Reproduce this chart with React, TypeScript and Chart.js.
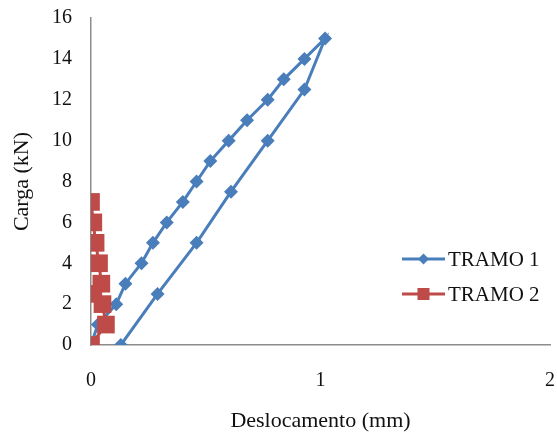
import React, { useEffect, useRef } from "react";
import { Chart, registerables } from "chart.js";

Chart.register(...registerables);

const seriesNames = ["TRAMO 1", "TRAMO 2"];
const tramo1X = [0.0, 0.03, 0.11, 0.15, 0.22, 0.27, 0.33, 0.40, 0.46, 0.52, 0.60, 0.68, 0.77, 0.84, 0.93, 1.02, 0.93, 0.77, 0.61, 0.46, 0.29, 0.13];
const tramo1Y = [0, 1, 2, 3, 4, 5, 6, 7, 8, 9, 10, 11, 12, 13, 14, 15, 12.5, 10, 7.5, 5, 2.5, 0];
const tramo2X = [0.0, 0.065, 0.05, 0.01, 0.045, 0.035, 0.02, 0.01, 0.0];
const tramo2Y = [0, 1, 2, 2.5, 3, 4, 5, 6, 7];
const xTitle = "Deslocamento (mm)";
const yTitle = "Carga (kN)";

const BLUE = "#4A7EBB";
const RED = "#BE4B48";
const FONT = "'Liberation Serif', 'Times New Roman', serif";

const legendPlugin = {
  id: "insideLegend",
  afterDraw(chart: any) {
    const ctx = chart.ctx;
    const ds = chart.data.datasets;
    const x0 = 402, x1 = 445, tx = 448;
    const ys = [259, 294];
    ctx.save();
    ds.forEach((d: any, i: number) => {
      const y = ys[i];
      ctx.strokeStyle = d.borderColor;
      ctx.lineWidth = 3;
      ctx.beginPath();
      ctx.moveTo(x0, y);
      ctx.lineTo(x1, y);
      ctx.stroke();
      ctx.fillStyle = d.pointBackgroundColor;
      const cx = (x0 + x1) / 2;
      ctx.beginPath();
      if (d.pointStyle === "rectRot") {
        const r = 5.5;
        ctx.moveTo(cx, y - r);
        ctx.lineTo(cx + r, y);
        ctx.lineTo(cx, y + r);
        ctx.lineTo(cx - r, y);
        ctx.closePath();
      } else {
        ctx.rect(cx - 6, y - 6, 12, 12);
      }
      ctx.fill();
      ctx.fillStyle = "#111";
      ctx.font = `21px ${FONT}`;
      ctx.textAlign = "left";
      ctx.textBaseline = "middle";
      ctx.fillText(d.label, tx, y + 1);
    });
    ctx.restore();
  },
};

export default function App() {
  const ref = useRef<HTMLCanvasElement>(null);
  useEffect(() => {
    document.body.style.margin = "0";
    const canvas = ref.current!;
    const chart = new Chart(canvas, {
      type: "scatter",
      data: {
        datasets: [
          {
            label: seriesNames[0],
            data: tramo1X.map((x, i) => ({ x, y: tramo1Y[i] })),
            showLine: true,
            borderColor: BLUE,
            backgroundColor: BLUE,
            pointBackgroundColor: BLUE,
            pointBorderColor: BLUE,
            borderWidth: 3,
            pointStyle: "rectRot",
            pointRadius: 7,
            pointBorderWidth: 0,
            order: 1,
          },
          {
            label: seriesNames[1],
            data: tramo2X.map((x, i) => ({ x, y: tramo2Y[i] })),
            showLine: true,
            borderColor: RED,
            backgroundColor: RED,
            pointBackgroundColor: RED,
            pointBorderColor: RED,
            borderWidth: 3,
            pointStyle: "rect",
            pointRadius: 12.5,
            pointBorderWidth: 0,
            order: 0,
          },
        ],
      },
      options: {
        animation: false,
        responsive: false,
        devicePixelRatio: 1,
        layout: { autoPadding: false, padding: { top: 18, right: 7, left: 0, bottom: 0 } },
        plugins: { legend: { display: false }, tooltip: { enabled: false } },
        scales: {
          x: {
            type: "linear",
            min: 0,
            max: 2,
            ticks: { stepSize: 1, padding: 24, color: "#111", font: { family: FONT, size: 20 } },
            grid: { display: false, drawTicks: false },
            border: { display: true, color: "#8c8c8c", width: 1.5 },
            title: { display: true, text: xTitle, color: "#111", font: { family: FONT, size: 22 }, padding: { top: 0, bottom: 3 } },
            afterFit: (s: any) => {
              s.height = 92;
              s.paddingLeft = 0;
              s.paddingRight = 0;
            },
          },
          y: {
            type: "linear",
            min: 0,
            max: 16,
            ticks: { stepSize: 2, padding: 19, color: "#111", font: { family: FONT, size: 20 } },
            grid: { display: false, drawTicks: false },
            border: { display: true, color: "#8c8c8c", width: 1.5 },
            title: { display: true, text: yTitle, color: "#111", font: { family: FONT, size: 22 }, padding: { top: 9, bottom: 0 } },
            afterFit: (s: any) => {
              s.width = 91;
              s.paddingTop = 0;
              s.paddingBottom = 0;
            },
          },
        },
      },
      plugins: [legendPlugin],
    });
    return () => chart.destroy();
  }, []);
  return (
    <div style={{ width: 557, height: 437, background: "#fff" }}>
      <canvas ref={ref} width={557} height={437} style={{ display: "block" }} />
    </div>
  );
}
